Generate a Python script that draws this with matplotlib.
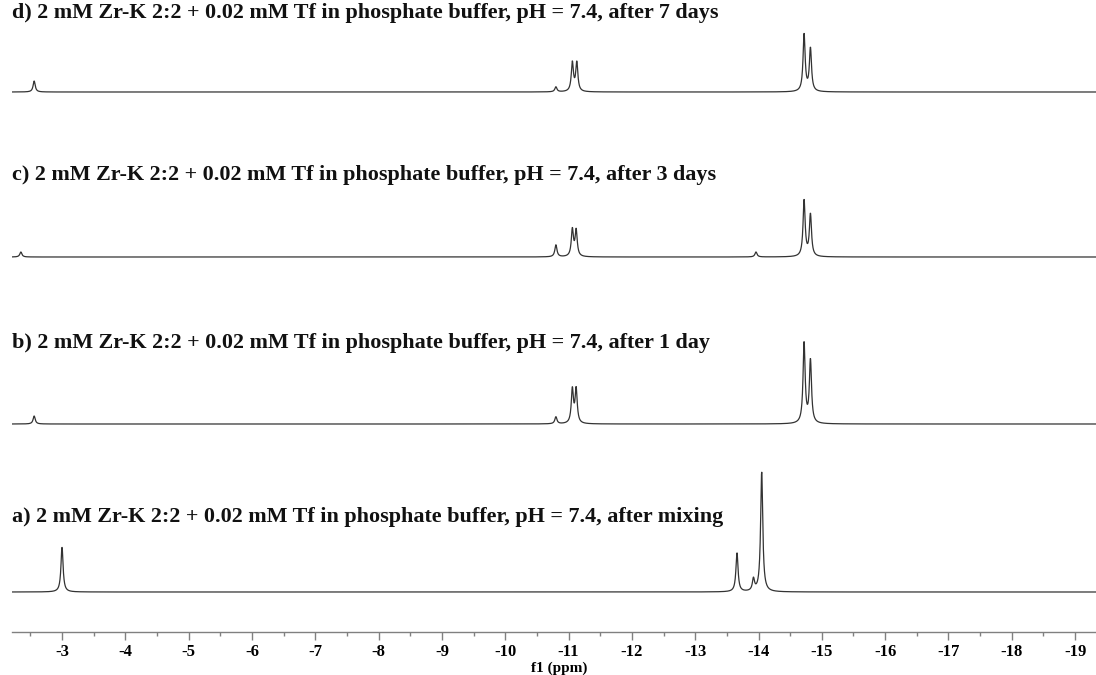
import numpy as np
import matplotlib
matplotlib.use("Agg")
import matplotlib.pyplot as plt

# ---- data ----
titles = [
    "a) 2 mM Zr-K 2:2 + 0.02 mM Tf in phosphate buffer, pH = 7.4, after mixing",
    "b) 2 mM Zr-K 2:2 + 0.02 mM Tf in phosphate buffer, pH = 7.4, after 1 day",
    "c) 2 mM Zr-K 2:2 + 0.02 mM Tf in phosphate buffer, pH = 7.4, after 3 days",
    "d) 2 mM Zr-K 2:2 + 0.02 mM Tf in phosphate buffer, pH = 7.4, after 7 days",
]
peaks_a_ppm = [-3.00, -13.66, -13.92, -14.05]
peaks_a_int = [45, 39, 12, 120]
peaks_b_ppm = [-2.56, -10.80, -11.06, -11.12, -14.72, -14.82]
peaks_b_int = [8, 7, 34, 34, 80, 63]
peaks_c_ppm = [-2.35, -10.80, -11.06, -11.12, -13.96, -14.72, -14.82]
peaks_c_int = [5, 12, 27, 26, 5, 56, 42]
peaks_d_ppm = [-2.56, -10.80, -11.06, -11.13, -14.72, -14.82]
peaks_d_int = [11, 5, 29, 29, 57, 43]
tick_values = [-3, -4, -5, -6, -7, -8, -9, -10, -11, -12, -13, -14, -15, -16, -17, -18, -19]

spectra = [
    (peaks_a_ppm, peaks_a_int),
    (peaks_b_ppm, peaks_b_int),
    (peaks_c_ppm, peaks_c_int),
    (peaks_d_ppm, peaks_d_int),
]

# ---- layout ----
W, H = 1096, 675
fig = plt.figure(figsize=(W / 100, H / 100), dpi=100)
ax_bottom_px = 632
ax = fig.add_axes([12 / W, (H - ax_bottom_px) / H, 1 - 12 / W, ax_bottom_px / H])

x_left, x_right = -2.21, -19.33
ax.set_xlim(x_left, x_right)
ax.set_ylim(0, ax_bottom_px)

baselines = [40, 208, 375, 540]
title_y = [115, 289, 457, 619]
hwhm = 0.02

x = np.linspace(x_left, x_right, 4000)
for (ppm, inten), base, ty, title in zip(spectra, baselines, title_y, titles):
    y = np.zeros_like(x)
    for p, h in zip(ppm, inten):
        y += h / (1 + ((x - p) / hwhm) ** 2)
    ax.plot(x, base + y, color="#333333", lw=0.9)
    ax.text(0.0, ty, title, transform=ax.get_yaxis_transform(),
            ha="left", va="center", fontsize=15.9, fontweight="bold",
            family="Liberation Serif", color="#111111")

for s in ["top", "right", "left"]:
    ax.spines[s].set_visible(False)
ax.spines["bottom"].set_color("#808080")
ax.spines["bottom"].set_linewidth(1.0)
ax.set_yticks([])
ax.set_xticks(tick_values)
ax.set_xticklabels([str(t) for t in tick_values])
ax.set_xticks(np.arange(-2.5, -19.5, -1.0), minor=True)
ax.tick_params(axis="x", which="major", length=6, width=1, color="#808080", pad=3,
               labelsize=12)
ax.tick_params(axis="x", which="minor", length=3, width=1, color="#808080")
for lab in ax.get_xticklabels():
    lab.set_fontfamily("Liberation Serif")
    lab.set_fontweight("bold")
ax.set_xlabel("f1 (ppm)", fontsize=11, fontweight="bold", family="Liberation Serif")
ax.xaxis.set_label_coords(0.505, -0.046)

fig.savefig("out.png", dpi=100)
